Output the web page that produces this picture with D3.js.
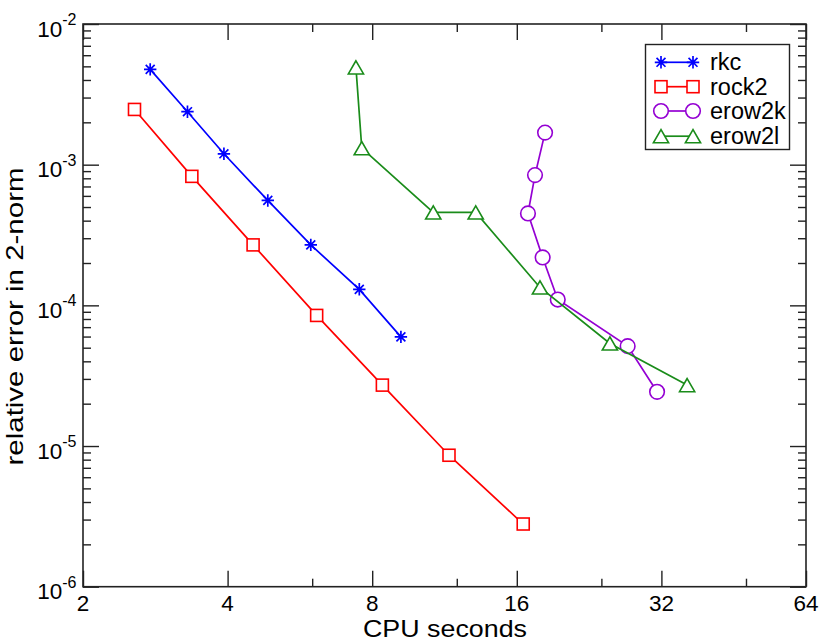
<!DOCTYPE html>
<html><head><meta charset="utf-8">
<script src="https://cdn.jsdelivr.net/npm/d3@7"></script>
<style>
body{margin:0;background:#fff}
svg{display:block}
text{font-family:"Liberation Sans",Arial,Helvetica,sans-serif;fill:#000}
</style>
</head><body>
<svg id="c" width="821" height="642"></svg>
<script>
// ---- data ----
const seriesNames = ["rkc", "rock2", "erow2k", "erow2l"];
const rkcX = [2.76, 3.30, 3.93, 4.85, 5.96, 7.52, 9.18];
const rkcY = [4.76e-3, 2.38e-3, 1.195e-3, 5.57e-4, 2.69e-4, 1.30e-4, 5.97e-5];
const rock2X = [2.56, 3.37, 4.52, 6.13, 8.40, 11.56, 16.5];
const rock2Y = [2.47e-3, 8.26e-4, 2.69e-4, 8.48e-5, 2.71e-5, 8.6e-6, 2.79e-6];
const erow2kX = [18.32, 17.46, 16.88, 18.11, 19.47, 27.22, 31.34];
const erow2kY = [1.69e-3, 8.43e-4, 4.5e-4, 2.19e-4, 1.10e-4, 5.13e-5, 2.43e-5];
const erow2lX = [7.40, 7.61, 10.72, 13.14, 17.88, 25.0, 36.2];
const erow2lY = [4.92e-3, 1.31e-3, 4.58e-4, 4.58e-4, 1.34e-4, 5.36e-5, 2.71e-5];
const xTickLabels = [2, 4, 8, 16, 32, 64];
const xMinorTicks = [6, 12, 24, 48];
const yTickValues = [1e-6, 1e-5, 1e-4, 1e-3, 1e-2];
const yTickExponents = ["-6", "-5", "-4", "-3", "-2"];
const xTitle = "CPU seconds";
const yTitle = "relative error in 2-norm";

// ---- layout ----
const L = 83, R = 806, T = 24, B = 586.7;
const svg = d3.select("#c");
const x = d3.scaleLog().base(2).domain([2, 64]).range([L, R]);
const y = d3.scaleLog().base(10).domain([1e-6, 1e-2]).range([B, T]);

const yMinor = [];
for (let i = 0; i < yTickValues.length - 1; i++)
  for (let k = 2; k <= 9; k++) yMinor.push(yTickValues[i] * k);

const axColor = "#222";
function styleAxis(g) {
  g.select(".domain").remove();
  g.selectAll("line").attr("stroke", axColor).attr("stroke-width", 1.4);
}
// bottom
svg.append("g").attr("transform", `translate(0,${B})`)
  .call(d3.axisBottom(x).tickValues(xTickLabels).tickSize(-16).tickFormat(""))
  .call(styleAxis);
svg.append("g").attr("transform", `translate(0,${B})`)
  .call(d3.axisBottom(x).tickValues(xMinorTicks).tickSize(-8).tickFormat(""))
  .call(styleAxis);
// top
svg.append("g").attr("transform", `translate(0,${T})`)
  .call(d3.axisTop(x).tickValues(xTickLabels).tickSize(-16).tickFormat(""))
  .call(styleAxis);
svg.append("g").attr("transform", `translate(0,${T})`)
  .call(d3.axisTop(x).tickValues(xMinorTicks).tickSize(-8).tickFormat(""))
  .call(styleAxis);
// left
svg.append("g").attr("transform", `translate(${L},0)`)
  .call(d3.axisLeft(y).tickValues(yTickValues).tickSize(-16).tickFormat(""))
  .call(styleAxis);
svg.append("g").attr("transform", `translate(${L},0)`)
  .call(d3.axisLeft(y).tickValues(yMinor).tickSize(-8).tickFormat(""))
  .call(styleAxis);
// right
svg.append("g").attr("transform", `translate(${R},0)`)
  .call(d3.axisRight(y).tickValues(yTickValues).tickSize(-16).tickFormat(""))
  .call(styleAxis);
svg.append("g").attr("transform", `translate(${R},0)`)
  .call(d3.axisRight(y).tickValues(yMinor).tickSize(-8).tickFormat(""))
  .call(styleAxis);

// frame
svg.append("rect").attr("x", L).attr("y", T).attr("width", R - L).attr("height", B - T)
  .attr("fill", "none").attr("stroke", axColor).attr("stroke-width", 1.6);

// x tick labels
svg.append("g").selectAll("text").data(xTickLabels).join("text")
  .attr("x", d => x(d)).attr("y", B + 24.5)
  .attr("text-anchor", "middle").attr("font-size", 22.5)
  .text(d => d);

// y tick labels
const yl = svg.append("g").selectAll("text").data(yTickValues).join("text")
  .attr("x", 76.5).attr("y", d => y(d) + 12.5)
  .attr("text-anchor", "end").attr("font-size", 22.5);
yl.append("tspan").text("10");
yl.append("tspan").attr("dy", -11.5).attr("font-size", 16).text((d, i) => yTickExponents[i]);

// axis titles
svg.append("text").attr("x", 445).attr("y", 637).attr("text-anchor", "middle")
  .attr("font-size", 24).attr("textLength", 164).attr("lengthAdjust", "spacingAndGlyphs")
  .text(xTitle);
svg.append("text").attr("transform", `translate(23,316.5) rotate(-90)`)
  .attr("text-anchor", "middle").attr("font-size", 24)
  .attr("textLength", 298).attr("lengthAdjust", "spacingAndGlyphs")
  .text(yTitle);

// ---- series ----
const colors = {rkc: "#0000ff", rock2: "#ff0000", erow2k: "#9400d3", erow2l: "#1a8c1a"};
const shapes = {rkc: "star", rock2: "square", erow2k: "circle", erow2l: "triangle"};
const seriesData = {
  rkc: rkcX.map((v, i) => [v, rkcY[i]]),
  rock2: rock2X.map((v, i) => [v, rock2Y[i]]),
  erow2k: erow2kX.map((v, i) => [v, erow2kY[i]]),
  erow2l: erow2lX.map((v, i) => [v, erow2lY[i]])
};

function drawMarker(g, shape, cx, cy, color) {
  const sw = 1.6;
  if (shape === "square") {
    g.append("rect").attr("x", cx - 6).attr("y", cy - 6).attr("width", 12).attr("height", 12)
      .attr("fill", "#fff").attr("stroke", color).attr("stroke-width", sw);
  } else if (shape === "circle") {
    g.append("circle").attr("cx", cx).attr("cy", cy).attr("r", 7.3)
      .attr("fill", "#fff").attr("stroke", color).attr("stroke-width", sw);
  } else if (shape === "triangle") {
    const w = 7.6, h = 6.6;
    g.append("path").attr("d", `M${cx},${cy - h}L${cx - w},${cy + h}L${cx + w},${cy + h}Z`)
      .attr("fill", "#fff").attr("stroke", color).attr("stroke-width", sw);
  } else if (shape === "star") {
    const s = 6.2, d = s * 0.72;
    g.append("path")
      .attr("d", `M${cx - s},${cy}L${cx + s},${cy}M${cx},${cy - s}L${cx},${cy + s}` +
        `M${cx - d},${cy - d}L${cx + d},${cy + d}M${cx - d},${cy + d}L${cx + d},${cy - d}`)
      .attr("fill", "none").attr("stroke", color).attr("stroke-width", 1.7);
  }
}

const line = d3.line().x(d => x(d[0])).y(d => y(d[1]));
seriesNames.forEach(name => {
  const g = svg.append("g");
  g.append("path").datum(seriesData[name]).attr("d", line)
    .attr("fill", "none").attr("stroke", colors[name]).attr("stroke-width", 1.7);
  seriesData[name].forEach(p => drawMarker(g, shapes[name], x(p[0]), y(p[1]), colors[name]));
});

// ---- legend ----
const lg = svg.append("g");
lg.append("rect").attr("x", 645.5).attr("y", 44.5).attr("width", 144).attr("height", 105)
  .attr("fill", "#fff").attr("stroke", axColor).attr("stroke-width", 1.4);
const legY = [62.3, 86.7, 111, 136.2];
seriesNames.forEach((name, i) => {
  const yy = legY[i];
  lg.append("line").attr("x1", 661).attr("x2", 693).attr("y1", yy).attr("y2", yy)
    .attr("stroke", colors[name]).attr("stroke-width", 1.7);
  drawMarker(lg, shapes[name], 661, yy, colors[name]);
  drawMarker(lg, shapes[name], 693, yy, colors[name]);
  lg.append("text").attr("x", 710).attr("y", yy + 8).attr("font-size", 23.5).text(name);
});
</script>
</body></html>
